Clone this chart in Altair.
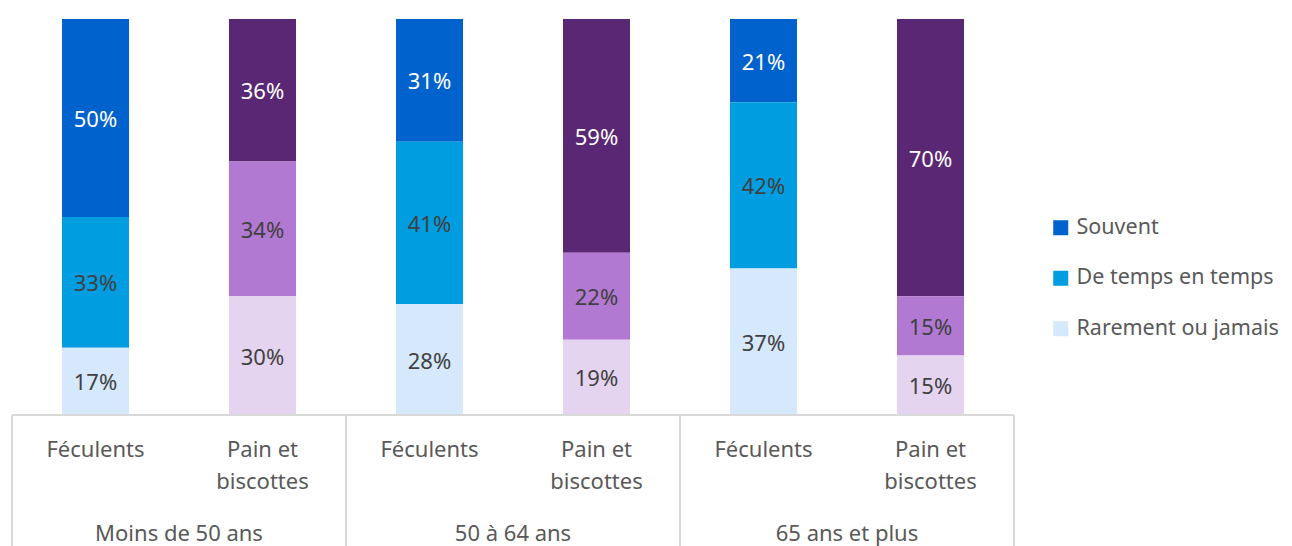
import altair as alt
import pandas as pd

groups = ["Moins de 50 ans", "50 à 64 ans", "65 ans et plus"]
products = ["Féculents", "Pain et\nbiscottes"]
product_keys = ["Féculents", "Pain"]
levels = ["Souvent", "De temps en temps", "Rarement ou jamais"]
souvent = [50, 36, 31, 59, 21, 70]
temps = [33, 34, 41, 22, 42, 15]
rarement = [17, 30, 28, 19, 37, 15]

fec_colors = ["#0062CC", "#009EE0", "#D6E8FB"]
pain_colors = ["#5A2774", "#B279D3", "#E5D4F0"]

FONT = "Noto Sans"
FS = 22

series = [souvent, temps, rarement]
rows, bars, keys, colors = [], [], [], []
for pk, cols in zip(product_keys, [fec_colors, pain_colors]):
    for lev, c in zip(levels, cols):
        keys.append(f"{pk}|{lev}")
        colors.append(c)

for gi, g in enumerate(groups):
    for pi, p in enumerate(products):
        bi = gi * 2 + pi
        bars.append({"bar": bi, "xpos": bi + 0.5, "product": p})
        for li, lev in enumerate(levels):
            v = series[li][bi]
            rows.append({
                "bar": bi, "xpos": bi + 0.5,
                "key": f"{product_keys[pi]}|{lev}",
                "value": v, "lbl": f"{v}%", "ord": 2 - li,
                "tcol": "#FFFFFF" if li == 0 else "#404040",
            })

df = pd.DataFrame(rows)
bars_df = pd.DataFrame(bars)
groups_df = pd.DataFrame({"xpos": [gi * 2 + 1 for gi in range(len(groups))], "group": groups})
sep_df = pd.DataFrame({"x": [0, 2, 4, 6]})
base_df = pd.DataFrame({"x": [0], "x2": [6], "y": [0]})

xs = alt.Scale(domain=[0, 6], nice=False, zero=False, padding=0)
ys = alt.Scale(domain=[0, 100], nice=False)

stacked = alt.Chart(df).transform_stack(
    stack="value", groupby=["bar"], as_=["y0", "y1"],
    sort=[alt.SortField("ord", order="ascending")]
)

bar_layer = stacked.mark_bar(size=67).encode(
    x=alt.X("xpos:Q", scale=xs, axis=None),
    y=alt.Y("y0:Q", scale=ys, axis=None),
    y2="y1:Q",
    color=alt.Color(
        "key:N",
        scale=alt.Scale(domain=keys, range=colors),
        legend=alt.Legend(
            title=None, orient="none", legendX=1038, legendY=198,
            values=keys[:3], labelExpr="split(datum.label, '|')[1]",
            symbolType="square", symbolSize=225, symbolStrokeWidth=0,
            labelFont=FONT, labelFontSize=21.5, labelColor="#595959",
            labelOffset=5, rowPadding=27.5, padding=0, labelLimit=400,
        ),
    ),
)

text_layer = stacked.transform_calculate(ymid="(datum.y0 + datum.y1) / 2").mark_text(
    font=FONT, fontSize=FS, baseline="middle", dy=2
).encode(
    x=alt.X("xpos:Q", scale=xs, axis=None),
    y=alt.Y("ymid:Q", scale=ys, axis=None),
    text="lbl:N",
    color=alt.Color("tcol:N", scale=None),
)

base_rule = alt.Chart(base_df).mark_rule(color="#D9D9D9", strokeWidth=2).encode(
    x=alt.X("x:Q", scale=xs, axis=None), x2="x2:Q",
    y=alt.Y("y:Q", scale=ys, axis=None),
)

sep_rule = alt.Chart(sep_df).mark_rule(color="#D9D9D9", strokeWidth=2).encode(
    x=alt.X("x:Q", scale=xs, axis=None),
    y=alt.value(396), y2=alt.value(530),
)

prod_labels = alt.Chart(bars_df).mark_text(
    font=FONT, fontSize=FS, color="#595959", baseline="top", lineBreak="\n", lineHeight=32
).encode(
    x=alt.X("xpos:Q", scale=xs, axis=None),
    y=alt.value(421),
    text="product:N",
)

group_labels = alt.Chart(groups_df).mark_text(
    font=FONT, fontSize=FS, color="#595959", baseline="middle"
).encode(
    x=alt.X("xpos:Q", scale=xs, axis=None),
    y=alt.value(515),
    text="group:N",
)

chart = alt.layer(
    bar_layer, text_layer, base_rule, sep_rule, prod_labels, group_labels
).properties(
    width=1002, height=396,
    autosize=alt.AutoSizeParams(type="none"),
    padding={"left": 4, "top": 11, "right": 270, "bottom": 131},
).configure_view(stroke=None)

chart.save("out.html", embed_options={"renderer": "svg", "actions": False})
